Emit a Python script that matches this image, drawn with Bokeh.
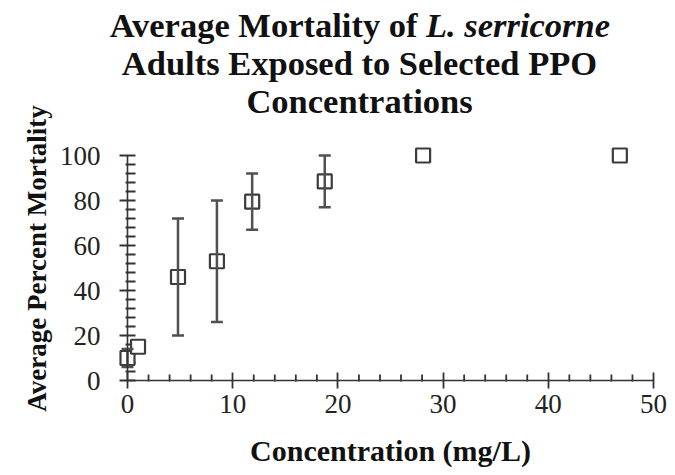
import math
from bokeh.plotting import figure
from bokeh.models import (ColumnDataSource, Whisker, TeeHead, Label, SingleIntervalTicker,
                          Range1d)
from bokeh.embed import file_html
from bokeh.resources import INLINE

# Data
concentration = [0.0, 1.0, 4.8, 8.5, 11.85, 18.75, 28.1, 46.8]
mortality = [10, 15, 46, 53, 79.5, 88.5, 100, 100]
error = [4, 0, 26, 27, 12.5, 11.5, 0, 0]

title_lines = ["Average Mortality of", "L. serricorne",
               "Adults Exposed to Selected PPO", "Concentrations"]
x_label = "Concentration (mg/L)"
y_label = "Average Percent Mortality"

# axis ticking
X_MAX, X_MAJOR, X_MINOR = 50, 10, 2
Y_MAX, Y_MAJOR, Y_MINOR = 100, 20, 4

FONT = "Liberation Serif"
INK = "#333333"

# layout geometry (pixels): the frame covers the whole canvas, axes sit at fixed locations
W, H = 675, 475
X0_PX, X50_PX = 127, 653      # where x=0 and x=50 fall
Y0_PX, Y100_PX = 380, 155     # where y=0 and y=100 fall
px_x = (X50_PX - X0_PX) / X_MAX
px_y = (Y0_PX - Y100_PX) / Y_MAX
x_start = -X0_PX / px_x
y_end = Y0_PX / px_y

p = figure(frame_width=W, frame_height=H, min_border=0,
           x_range=Range1d(x_start, x_start + W / px_x),
           y_range=Range1d(y_end - H / px_y, y_end),
           output_backend="svg", toolbar_location=None, background_fill_color="white",
           border_fill_color="white")
p.outline_line_color = None
p.xgrid.visible = False
p.ygrid.visible = False

# minor tick marks (mostly inside the axes)
xm = [v for v in range(0, X_MAX + 1, X_MINOR) if v % X_MAJOR]
ym = [v for v in range(0, Y_MAX + 1, Y_MINOR) if v % Y_MAJOR]
tick_src_x = ColumnDataSource(dict(x=xm, y0=[-1 / px_y] * len(xm), y1=[6 / px_y] * len(xm)))
tick_src_y = ColumnDataSource(dict(y=ym, x0=[-2 / px_x] * len(ym), x1=[8 / px_x] * len(ym)))
p.segment(x0="x", x1="x", y0="y0", y1="y1", source=tick_src_x,
          line_color=INK, line_width=1.8)
p.segment(x0="x0", x1="x1", y0="y", y1="y", source=tick_src_y,
          line_color=INK, line_width=1.8)

# error bars (only where non-zero)
idx = [i for i, e in enumerate(error) if e > 0]
err_src = ColumnDataSource(dict(
    x=[concentration[i] for i in idx],
    upper=[mortality[i] + error[i] for i in idx],
    lower=[mortality[i] - error[i] for i in idx]))
whisk = Whisker(source=err_src, base="x", upper="upper", lower="lower",
                line_color="#505050", line_width=2.5, level="glyph",
                upper_head=TeeHead(size=12, line_color="#505050", line_width=2.5),
                lower_head=TeeHead(size=12, line_color="#505050", line_width=2.5))
p.add_layout(whisk)

src = ColumnDataSource(dict(x=concentration, y=mortality))
p.scatter("x", "y", source=src, marker="square", size=14, fill_color="white",
          line_color="#3c3c3c", line_width=2.2)

# main axes
xa = p.xaxis[0]
ya = p.yaxis[0]
xa.ticker = SingleIntervalTicker(interval=X_MAJOR, num_minor_ticks=0)
ya.ticker = SingleIntervalTicker(interval=Y_MAJOR, num_minor_ticks=0)
xa.bounds = (0, X_MAX)
ya.bounds = (0, Y_MAX)
xa.fixed_location = 0
ya.fixed_location = 0
for ax in (xa, ya):
    ax.axis_line_color = INK
    ax.axis_line_width = 1.6
    ax.major_tick_line_color = INK
    ax.minor_tick_line_color = None
    ax.major_tick_line_width = 1.8
    ax.major_tick_in = 8
    ax.major_tick_out = 8
    ax.major_label_text_font = FONT
    ax.major_label_text_font_size = "27px"
    ax.major_label_text_color = "#222222"
    ax.axis_label_text_font = FONT
    ax.axis_label_text_font_style = "bold"
    ax.axis_label_text_color = "#111111"
xa.major_label_standoff = 6
ya.major_label_standoff = 19
xa.axis_label = x_label
xa.axis_label_text_font_size = "30px"
xa.axis_label_standoff = 18

common = dict(x_units="screen", y_units="screen", text_font=FONT,
              text_color="#111111", text_font_style="bold")

# y-axis title as a rotated label (screen units from the frame's bottom-left)
p.add_layout(Label(x=36.5, y=H - 258, text=y_label, angle=math.pi / 2,
                   text_align="center", text_baseline="middle", text_font_size="27px",
                   **common))

# chart title (mixed bold / bold-italic)
tcommon = dict(common, text_font_size="34.5px", text_baseline="alphabetic")
p.add_layout(Label(x=417, y=H - 24, text=title_lines[0], text_align="right", **tcommon))
p.add_layout(Label(x=425.5, y=H - 24, text=title_lines[1], text_align="left",
                   **dict(tcommon, text_font_style="bold italic")))
p.add_layout(Label(x=359, y=H - 62, text=title_lines[2], text_align="center", **tcommon))
p.add_layout(Label(x=359, y=H - 100, text=title_lines[3], text_align="center", **tcommon))

open("out.html", "w").write(file_html(p, INLINE))
